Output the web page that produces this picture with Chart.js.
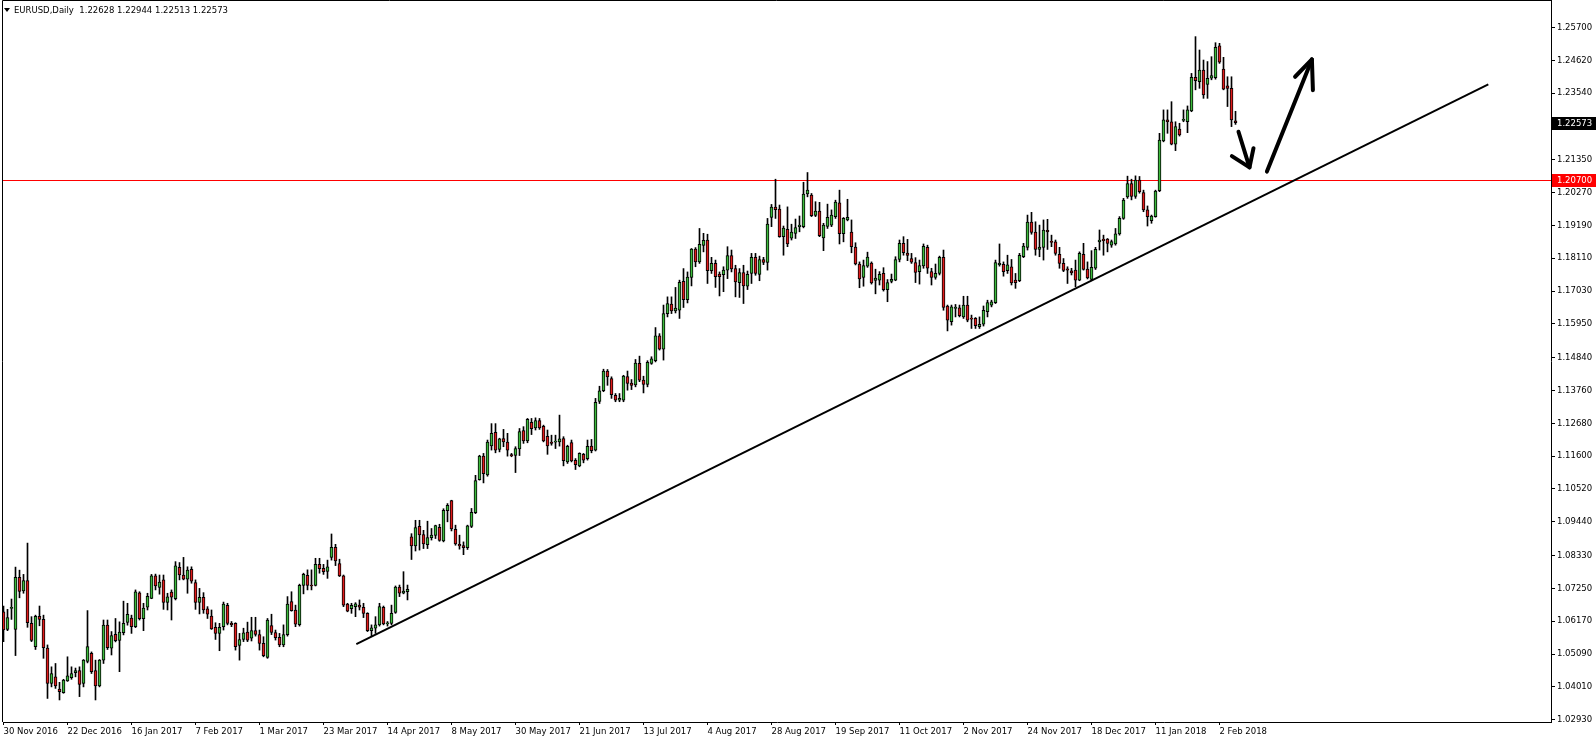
<!DOCTYPE html>
<html>
<head>
<meta charset="utf-8">
<title>EURUSD Daily</title>
<script src="https://cdn.jsdelivr.net/npm/chart.js@4.4.1/dist/chart.umd.min.js"></script>
<style>
  html, body { margin: 0; padding: 0; background: #fff; }
  canvas { display: block; }
</style>
</head>
<body>
<canvas id="chart" width="1596" height="744"></canvas>
<script>
const symbol = 'EURUSD';
const period = 'Daily';

// daily candles, one per bar index
const opens = [
  1.0648,1.0590,1.0659,1.0590,1.0761,1.0717,1.0751,1.0610,1.0533,1.0633,
  1.0623,1.0529,1.0412,1.0434,1.0394,1.0382,1.0421,1.0431,1.0448,1.0455,
  1.0412,1.0485,1.0511,1.0455,1.0404,1.0489,1.0604,1.0528,1.0574,1.0554,
  1.0579,1.0613,1.0627,1.0599,1.0710,1.0625,1.0663,1.0692,1.0766,1.0728,
  1.0753,1.0679,1.0713,1.0691,1.0794,1.0769,1.0755,1.0788,1.0744,1.0679,
  1.0696,1.0658,1.0634,1.0597,1.0577,1.0599,1.0669,1.0610,1.0610,1.0537,
  1.0557,1.0581,1.0561,1.0586,1.0573,1.0544,1.0498,1.0603,1.0580,1.0564,
  1.0539,1.0573,1.0682,1.0654,1.0606,1.0735,1.0768,1.0736,1.0735,1.0804,
  1.0791,1.0781,1.0827,1.0860,1.0807,1.0766,1.0673,1.0658,1.0665,1.0670,
  1.0663,1.0643,1.0586,1.0594,1.0605,1.0663,1.0608,1.0610,1.0646,1.0729,
  1.0709,1.0714,1.0895,1.0865,1.0929,1.0902,1.0869,1.0892,1.0899,1.0926,
  1.0881,1.0981,1.1014,1.0919,1.0870,1.0866,1.0859,1.0929,1.0974,1.1083,
  1.1160,1.1098,1.1194,1.1238,1.1182,1.1218,1.1206,1.1165,1.1162,1.1184,
  1.1244,1.1210,1.1271,1.1253,1.1277,1.1258,1.1225,1.1206,1.1206,1.1207,
  1.1218,1.1141,1.1205,1.1146,1.1128,1.1166,1.1152,1.1193,1.1180,1.1340,
  1.1375,1.1440,1.1415,1.1360,1.1344,1.1344,1.1422,1.1400,1.1394,1.1465,
  1.1410,1.1396,1.1465,1.1474,1.1556,1.1512,1.1629,1.1660,1.1638,1.1640,
  1.1735,1.1675,1.1748,1.1841,1.1799,1.1853,1.1871,1.1770,1.1794,1.1759,
  1.1757,1.1772,1.1820,1.1777,1.1731,1.1764,1.1719,1.1761,1.1814,1.1758,
  1.1807,1.1797,1.1945,1.1979,1.1973,1.1882,1.1906,1.1877,1.1893,1.1915,
  1.1915,1.2023,1.2019,1.1952,1.1966,1.1878,1.1916,1.1920,1.1948,1.1993,
  1.1892,1.1937,1.1897,1.1848,1.1792,1.1748,1.1785,1.1795,1.1738,1.1739,
  1.1761,1.1708,1.1735,1.1739,1.1807,1.1860,1.1828,1.1810,1.1797,1.1767,
  1.1786,1.1847,1.1767,1.1748,1.1761,1.1814,1.1654,1.1602,1.1646,1.1648,
  1.1618,1.1657,1.1613,1.1613,1.1586,1.1594,1.1635,1.1657,1.1665,1.1790,
  1.1791,1.1770,1.1783,1.1739,1.1737,1.1816,1.1847,1.1930,1.1897,1.1840,
  1.1847,1.1903,1.1865,1.1865,1.1824,1.1794,1.1776,1.1770,1.1772,1.1739,
  1.1824,1.1775,1.1741,1.1778,1.1865,1.1874,1.1874,1.1854,1.1858,1.1891,
  1.1942,1.2013,1.2057,1.2014,1.2068,1.2027,1.1970,1.1935,1.1948,1.2033,
  1.2197,1.2266,1.2260,1.2186,1.2236,1.2264,1.2260,1.2296,1.2406,1.2392,
  1.2430,1.2383,1.2403,1.2405,1.2510,1.2433,1.2378,1.2370,1.22628
];
const highs = [
  1.0667,1.0656,1.0690,1.0795,1.0785,1.0771,1.0874,1.0632,1.0637,1.0667,
  1.0637,1.0539,1.0467,1.0478,1.0416,1.0426,1.0500,1.0467,1.0463,1.0467,
  1.0491,1.0652,1.0516,1.0489,1.0491,1.0621,1.0621,1.0583,1.0626,1.0615,
  1.0683,1.0676,1.0637,1.0720,1.0714,1.0676,1.0709,1.0771,1.0772,1.0769,
  1.0769,1.0709,1.0720,1.0813,1.0810,1.0827,1.0796,1.0796,1.0753,1.0725,
  1.0711,1.0665,1.0654,1.0612,1.0610,1.0680,1.0676,1.0616,1.0612,1.0577,
  1.0594,1.0614,1.0630,1.0630,1.0588,1.0566,1.0626,1.0640,1.0588,1.0577,
  1.0605,1.0698,1.0714,1.0670,1.0739,1.0775,1.0786,1.0786,1.0824,1.0824,
  1.0804,1.0818,1.0904,1.0870,1.0821,1.0769,1.0676,1.0676,1.0678,1.0687,
  1.0676,1.0645,1.0605,1.0632,1.0676,1.0667,1.0616,1.0670,1.0733,1.0736,
  1.0780,1.0736,1.0905,1.0949,1.0949,1.0916,1.0946,1.0922,1.0933,1.0936,
  1.0987,1.1004,1.1015,1.0933,1.0900,1.0878,1.0933,1.0988,1.1097,1.1163,
  1.1169,1.1213,1.1267,1.1267,1.1219,1.1248,1.1235,1.1169,1.1191,1.1251,
  1.1257,1.1284,1.1284,1.1286,1.1284,1.1262,1.1246,1.1229,1.1229,1.1295,
  1.1224,1.1196,1.1213,1.1152,1.1171,1.1169,1.1213,1.1215,1.1350,1.1390,
  1.1446,1.1445,1.1421,1.1366,1.1366,1.1426,1.1440,1.1412,1.1478,1.1489,
  1.1423,1.1474,1.1487,1.1583,1.1563,1.1657,1.1684,1.1684,1.1715,1.1739,
  1.1777,1.1766,1.1843,1.1846,1.1909,1.1893,1.1890,1.1814,1.1805,1.1766,
  1.1783,1.1849,1.1838,1.1788,1.1777,1.1788,1.1769,1.1827,1.1827,1.1818,
  1.1814,1.1942,1.1988,1.2071,1.1986,1.1917,1.1980,1.1923,1.1940,1.1950,
  1.2061,1.2093,1.2024,1.1997,1.1995,1.1926,1.1989,1.1970,1.2002,1.2035,
  1.1945,1.2005,1.1937,1.1862,1.1799,1.1805,1.1831,1.1799,1.1775,1.1767,
  1.1780,1.1741,1.1759,1.1816,1.1871,1.1882,1.1873,1.1827,1.1813,1.1805,
  1.1858,1.1854,1.1778,1.1792,1.1818,1.1838,1.1657,1.1657,1.1659,1.1657,
  1.1686,1.1686,1.1624,1.1616,1.1618,1.1654,1.1673,1.1673,1.1805,1.1858,
  1.1799,1.1821,1.1807,1.1761,1.1827,1.1860,1.1953,1.1962,1.1931,1.1920,
  1.1937,1.1939,1.1887,1.1871,1.1847,1.1810,1.1783,1.1778,1.1805,1.1832,
  1.1860,1.1799,1.1836,1.1847,1.1904,1.1887,1.1876,1.1871,1.1909,1.1948,
  1.2008,1.2081,1.2071,1.2082,1.2080,1.2035,1.1983,1.1953,1.2035,1.2222,
  1.2299,1.2299,1.2326,1.2260,1.2255,1.2299,1.2312,1.2419,1.2540,1.2496,
  1.2463,1.2458,1.2474,1.2520,1.2518,1.2472,1.2408,1.2408,1.22944
];
const lows = [
  1.0550,1.0586,1.0623,1.0504,1.0694,1.0709,1.0597,1.0550,1.0524,1.0602,
  1.0495,1.0363,1.0401,1.0396,1.0358,1.0380,1.0419,1.0426,1.0434,1.0369,
  1.0401,1.0480,1.0445,1.0358,1.0401,1.0478,1.0524,1.0506,1.0549,1.0451,
  1.0572,1.0604,1.0577,1.0596,1.0621,1.0586,1.0654,1.0691,1.0720,1.0706,
  1.0656,1.0654,1.0621,1.0687,1.0753,1.0753,1.0709,1.0742,1.0656,1.0641,
  1.0643,1.0626,1.0590,1.0557,1.0520,1.0588,1.0605,1.0599,1.0522,1.0489,
  1.0550,1.0550,1.0552,1.0568,1.0522,1.0500,1.0495,1.0573,1.0555,1.0533,
  1.0533,1.0568,1.0650,1.0599,1.0601,1.0707,1.0720,1.0720,1.0733,1.0775,
  1.0771,1.0758,1.0818,1.0800,1.0764,1.0665,1.0648,1.0643,1.0632,1.0654,
  1.0629,1.0583,1.0566,1.0577,1.0601,1.0605,1.0601,1.0605,1.0643,1.0698,
  1.0707,1.0687,1.0820,1.0848,1.0851,1.0856,1.0856,1.0884,1.0889,1.0880,
  1.0878,1.0944,1.0914,1.0867,1.0854,1.0836,1.0853,1.0925,1.0971,1.1081,
  1.1072,1.1094,1.1180,1.1171,1.1174,1.1191,1.1160,1.1158,1.1106,1.1162,
  1.1202,1.1204,1.1231,1.1246,1.1248,1.1207,1.1166,1.1196,1.1185,1.1193,
  1.1128,1.1136,1.1141,1.1116,1.1125,1.1138,1.1147,1.1171,1.1177,1.1333,
  1.1372,1.1393,1.1350,1.1339,1.1339,1.1339,1.1377,1.1379,1.1388,1.1405,
  1.1368,1.1388,1.1462,1.1470,1.1509,1.1476,1.1618,1.1629,1.1631,1.1613,
  1.1649,1.1664,1.1720,1.1783,1.1794,1.1832,1.1728,1.1761,1.1715,1.1687,
  1.1701,1.1744,1.1766,1.1684,1.1682,1.1662,1.1708,1.1728,1.1755,1.1737,
  1.1790,1.1772,1.1915,1.1942,1.1880,1.1821,1.1849,1.1871,1.1876,1.1898,
  1.1911,1.2013,1.1948,1.1948,1.1882,1.1836,1.1909,1.1915,1.1942,1.1858,
  1.1865,1.1934,1.1829,1.1789,1.1714,1.1719,1.1781,1.1726,1.1694,1.1723,
  1.1703,1.1668,1.1730,1.1737,1.1799,1.1821,1.1803,1.1794,1.1731,1.1726,
  1.1778,1.1761,1.1723,1.1742,1.1756,1.1640,1.1572,1.1591,1.1618,1.1618,
  1.1613,1.1602,1.1580,1.1580,1.1580,1.1588,1.1618,1.1651,1.1662,1.1785,
  1.1752,1.1761,1.1723,1.1712,1.1734,1.1813,1.1838,1.1890,1.1821,1.1816,
  1.1805,1.1840,1.1849,1.1821,1.1778,1.1767,1.1728,1.1756,1.1717,1.1737,
  1.1772,1.1743,1.1737,1.1774,1.1838,1.1821,1.1832,1.1847,1.1854,1.1887,
  1.1939,1.2008,1.2003,1.2008,1.2025,1.1964,1.1917,1.1926,1.1946,1.2030,
  1.2194,1.2222,1.2184,1.2165,1.2213,1.2260,1.2224,1.2293,1.2365,1.2370,
  1.2337,1.2337,1.2398,1.2400,1.2452,1.2365,1.2310,1.2244,1.22513
];
const closes = [
  1.0588,1.0629,1.0663,1.0761,1.0715,1.0751,1.0612,1.0554,1.0633,1.0623,
  1.0530,1.0412,1.0445,1.0404,1.0385,1.0423,1.0437,1.0445,1.0455,1.0409,
  1.0489,1.0534,1.0451,1.0404,1.0489,1.0604,1.0530,1.0570,1.0553,1.0581,
  1.0610,1.0640,1.0599,1.0714,1.0625,1.0660,1.0699,1.0766,1.0733,1.0746,
  1.0679,1.0697,1.0696,1.0799,1.0769,1.0755,1.0785,1.0749,1.0679,1.0696,
  1.0654,1.0640,1.0592,1.0577,1.0597,1.0673,1.0610,1.0606,1.0533,1.0557,
  1.0579,1.0555,1.0586,1.0574,1.0544,1.0504,1.0621,1.0580,1.0563,1.0539,
  1.0573,1.0673,1.0652,1.0607,1.0735,1.0771,1.0735,1.0733,1.0804,1.0790,
  1.0780,1.0796,1.0860,1.0815,1.0766,1.0670,1.0650,1.0669,1.0674,1.0663,
  1.0643,1.0586,1.0595,1.0605,1.0665,1.0608,1.0612,1.0643,1.0729,1.0709,
  1.0716,1.0722,1.0865,1.0925,1.0901,1.0871,1.0892,1.0900,1.0932,1.0883,
  1.0982,1.0998,1.0921,1.0871,1.0865,1.0859,1.0931,1.0975,1.1080,1.1160,
  1.1102,1.1206,1.1235,1.1180,1.1217,1.1207,1.1180,1.1161,1.1185,1.1241,
  1.1210,1.1281,1.1250,1.1277,1.1253,1.1210,1.1194,1.1202,1.1209,1.1217,
  1.1145,1.1192,1.1144,1.1132,1.1169,1.1147,1.1192,1.1178,1.1337,1.1375,
  1.1440,1.1421,1.1362,1.1344,1.1350,1.1423,1.1399,1.1393,1.1466,1.1410,
  1.1396,1.1469,1.1480,1.1556,1.1512,1.1629,1.1662,1.1638,1.1647,1.1732,
  1.1675,1.1749,1.1841,1.1799,1.1857,1.1870,1.1770,1.1794,1.1750,1.1750,
  1.1772,1.1820,1.1776,1.1733,1.1764,1.1720,1.1758,1.1814,1.1761,1.1807,
  1.1797,1.1923,1.1979,1.1971,1.1882,1.1910,1.1858,1.1897,1.1912,1.1920,
  1.2022,1.2035,1.1951,1.1966,1.1885,1.1920,1.1946,1.1953,1.1996,1.1892,
  1.1942,1.1946,1.1849,1.1792,1.1743,1.1787,1.1815,1.1730,1.1746,1.1758,
  1.1708,1.1731,1.1742,1.1807,1.1860,1.1829,1.1820,1.1798,1.1764,1.1787,
  1.1850,1.1778,1.1748,1.1761,1.1814,1.1649,1.1607,1.1651,1.1650,1.1622,
  1.1657,1.1607,1.1611,1.1589,1.1594,1.1640,1.1665,1.1668,1.1797,1.1794,
  1.1767,1.1789,1.1730,1.1731,1.1821,1.1851,1.1930,1.1896,1.1840,1.1848,
  1.1904,1.1898,1.1863,1.1827,1.1794,1.1771,1.1772,1.1763,1.1739,1.1827,
  1.1774,1.1746,1.1781,1.1840,1.1871,1.1869,1.1860,1.1866,1.1891,1.1942,
  1.2002,1.2057,1.2014,1.2068,1.2030,1.1970,1.1948,1.1950,1.2032,1.2200,
  1.2266,1.2260,1.2186,1.2244,1.2217,1.2268,1.2299,1.2406,1.2395,1.2430,
  1.2348,1.2403,1.2412,1.2505,1.2456,1.2367,1.2370,1.2266,1.22573
];

// time axis labels sit every 16 bars
const tickBars = [0,16,32,48,64,80,96,112,128,144,160,176,192,208,224,240,256,272,288,304];
const tickLabels = ['30 Nov 2016','22 Dec 2016','16 Jan 2017','7 Feb 2017','1 Mar 2017','23 Mar 2017',
  '14 Apr 2017','8 May 2017','30 May 2017','21 Jun 2017','13 Jul 2017','4 Aug 2017','28 Aug 2017',
  '19 Sep 2017','11 Oct 2017','2 Nov 2017','24 Nov 2017','18 Dec 2017','11 Jan 2018','2 Feb 2018'];
const priceTicks = [1.257,1.2462,1.2354,1.2246,1.2135,1.2027,1.1919,1.1811,1.1703,1.1595,1.1484,
  1.1376,1.1268,1.116,1.1052,1.0944,1.0833,1.0725,1.0617,1.0509,1.0401,1.0293];

const levelPrice = 1.207;
const lastPrice = closes[closes.length - 1];

// drawn objects (bar index, price)
const trendBars = [88.2, 371.2];
const trendPrices = [1.0542, 1.2383];
const downShaftBars = [308.75, 311.5];
const downShaftPrices = [1.2227, 1.2110];
const downHeadBars = [307.1, 311.5, 312.5];
const downHeadPrices = [1.2147, 1.2110, 1.2173];
const upShaftBars = [315.85, 327.1];
const upShaftPrices = [1.2096, 1.2465];
const upHeadBars = [322.9, 327.1, 327.35];
const upHeadPrices = [1.2408, 1.2465, 1.2364];

const BULL = '#3cba3c';
const BEAR = '#e01b1b';
const FONT = 'DejaVu Sans';
const FSIZE = 8.5;

const pts = (xs, ys) => xs.map((x, i) => ({x: x, y: ys[i]}));
const wicks = highs.map((h, i) => ({x: i, y: [lows[i], h]}));
const bodies = opens.map((o, i) => ({x: i, y: [Math.min(o, closes[i]), Math.max(o, closes[i])]}));
const bodyColors = opens.map((o, i) => closes[i] >= o ? BULL : BEAR);

const arrowLine = (data) => ({
  type: 'line', data: data, borderColor: '#000', borderWidth: 4,
  borderCapStyle: 'round', borderJoinStyle: 'round', pointRadius: 0, order: 0
});

const overlay = {
  id: 'overlay',
  beforeDatasetsDraw(chart) {
    const {ctx, chartArea: a, scales: {y}} = chart;
    const ly = Math.round(y.getPixelForValue(levelPrice)) + 0.5;
    ctx.save();
    ctx.strokeStyle = '#ff0000';
    ctx.lineWidth = 1;
    ctx.beginPath();
    ctx.moveTo(a.left, ly);
    ctx.lineTo(a.right, ly);
    ctx.stroke();
    ctx.restore();
  },
  afterDraw(chart) {
    const {ctx, chartArea: a, scales: {y}} = chart;
    ctx.save();
    // frame
    ctx.strokeStyle = '#000';
    ctx.lineWidth = 1;
    ctx.beginPath();
    ctx.moveTo(a.left - 0.5, a.bottom);
    ctx.lineTo(a.left - 0.5, 0.5);
    ctx.lineTo(a.right, 0.5);
    ctx.stroke();

    // price tags on the axis
    ctx.font = FSIZE + 'px "' + FONT + '"';
    ctx.textBaseline = 'middle';
    ctx.textAlign = 'left';
    const tag = (p, bg) => {
      const yy = Math.round(y.getPixelForValue(p));
      ctx.fillStyle = bg;
      ctx.fillRect(a.right + 1, yy - 6, 44, 13);
      ctx.fillStyle = '#fff';
      ctx.fillText(p.toFixed(5), a.right + 6, yy + 0.5);
    };
    tag(levelPrice, '#ff0000');
    tag(lastPrice, '#000');

    // title
    const n = opens.length - 1;
    ctx.fillStyle = '#000';
    ctx.beginPath();
    ctx.moveTo(4, 8);
    ctx.lineTo(10, 8);
    ctx.lineTo(7, 12);
    ctx.closePath();
    ctx.fill();
    const title = symbol + ',' + period + '  ' +
      [opens[n], highs[n], lows[n], closes[n]].map(v => v.toFixed(5)).join(' ');
    ctx.fillText(title, 14, 10.5);
    ctx.restore();
  }
};

const ctx = document.getElementById('chart').getContext('2d');
new Chart(ctx, {
  type: 'bar',
  data: {
    datasets: [
      {type: 'line', data: pts(trendBars, trendPrices), borderColor: '#000', borderWidth: 2, pointRadius: 0, order: 1},
      arrowLine(pts(downShaftBars, downShaftPrices)),
      arrowLine(pts(downHeadBars, downHeadPrices)),
      arrowLine(pts(upShaftBars, upShaftPrices)),
      arrowLine(pts(upHeadBars, upHeadPrices)),
      {data: bodies, backgroundColor: bodyColors, borderColor: '#000', borderWidth: 1,
        borderSkipped: false, barThickness: 3, minBarLength: 1, grouped: false, order: 2},
      {data: wicks, backgroundColor: '#000', borderWidth: 0, barThickness: 1, grouped: false, order: 3}
    ]
  },
  options: {
    responsive: false,
    animation: false,
    devicePixelRatio: 1,
    layout: {padding: {left: 3, top: 0, right: 0, bottom: 0}},
    plugins: {legend: {display: false}, tooltip: {enabled: false}},
    scales: {
      x: {
        type: 'linear',
        offset: false,
        min: -0.125,
        max: 386.875,
        grid: {display: true, offset: false, drawOnChartArea: false, drawTicks: true, tickLength: 3, color: '#000'},
        border: {display: true, color: '#000'},
        ticks: {
          color: '#000', font: {family: FONT, size: FSIZE}, align: 'start',
          maxRotation: 0, autoSkip: false, padding: 2,
          callback: (v, i) => tickLabels[i]
        },
        afterBuildTicks: (s) => { s.ticks = tickBars.map(v => ({value: v})); },
        afterFit: (s) => { s.height = 22; s.paddingLeft = 0; s.paddingRight = 0; }
      },
      y: {
        position: 'right',
        min: 1.02855,
        max: 1.26605,
        grid: {display: true, drawOnChartArea: false, drawTicks: true, tickLength: 4, color: '#000'},
        border: {display: true, color: '#000'},
        ticks: {
          color: '#000', font: {family: FONT, size: FSIZE}, padding: 2,
          callback: (v) => v.toFixed(5)
        },
        afterBuildTicks: (s) => { s.ticks = priceTicks.map(v => ({value: v})); },
        afterFit: (s) => { s.width = 45; s.paddingTop = 0; s.paddingBottom = 0; }
      }
    }
  },
  plugins: [overlay]
});
</script>
</body>
</html>
